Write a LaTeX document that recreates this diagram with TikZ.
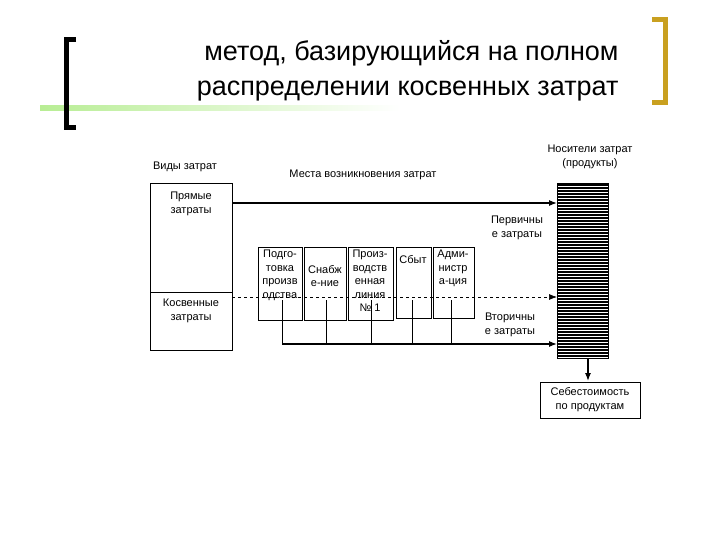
\documentclass[tikz,border=0pt]{standalone}
\usepackage{fontspec}
\setmainfont{Liberation Sans}
\usetikzlibrary{arrows.meta}
\begin{document}
\begin{tikzpicture}[x=1pt,y=-1pt,
  lbl/.style={font=\fontsize{11}{14}\selectfont,align=center,inner sep=0},
  blbl/.style={font=\fontsize{11}{13.5}\selectfont,align=center,inner sep=0},
  box/.style={draw,line width=0.7pt},
  arr/.style={line width=1.2pt,-{Latex[length=8pt,width=6pt]}}]
\useasboundingbox (0,0) rectangle (720,540);
\fill[white] (0,0) rectangle (720,540);
% title decor
\shade[left color=olive!40!green!35, right color=white] (40,106) rectangle (400,111);
\draw[line width=5pt] (76,40) -- (66,40) -- (66,128) -- (76,128);
\draw[line width=5pt,color={rgb,255:red,201;green,160;blue,32}] (652,20) -- (665,20) -- (665,103) -- (652,103);
\node[font=\fontsize{27}{35}\selectfont,align=right,anchor=east] (title) at (622,71) {метод, базирующийся на полном\\распределении косвенных затрат};
% left box
\draw[box] (150,183) rectangle (232,350);
\draw[box] (150,292) -- (232,292);
\node[lbl] (vid) at (185,167) {Виды затрат};
\node[lbl] (prj) at (191,204) {Прямые\\затраты};
\node[lbl] (kos) at (191,311) {Косвенные\\затраты};
\node[lbl] (mesta) at (363,175) {Места возникновения затрат};
\node[lbl] (nos) at (590,157) {Носители затрат\\(продукты)};
% hatched column
\foreach \yy in {185,188,...,356} \draw[line width=1.2pt] (557,\yy) -- (608,\yy);
\draw[box] (557,183) rectangle (608,358);
% department boxes
\node[box,minimum width=44pt,minimum height=73pt,anchor=north west,inner sep=0] (b1) at (258,247) {};
\node[blbl,anchor=north] at (280,250) {Подго-\\товка\\произв\\одства};
\node[box,minimum width=42pt,minimum height=73pt,anchor=north west,inner sep=0] (b2) at (304,247) {};
\node[blbl] at (325,276) {Снабж\\е-ние};
\node[box,minimum width=45pt,minimum height=73pt,anchor=north west,inner sep=0] (b3) at (348,247) {};
\node[blbl,anchor=north] at (370,250) {Произ-\\водств\\енная\\линия\\№ 1};
\node[box,minimum width=35pt,minimum height=71pt,anchor=north west,inner sep=0] (b4) at (396,247) {};
\node[blbl] at (413,260) {Сбыт};
\node[box,minimum width=41pt,minimum height=71pt,anchor=north west,inner sep=0] (b5) at (433,247) {};
\node[blbl,anchor=north] at (453,250) {Адми-\\нистр\\а-ция};
% arrows
\draw[arr] (232,203) -- (557,203);
\draw[dashed,line width=0.7pt,-{Latex[length=8pt,width=6pt]}] (232,297) -- (557,297);
\node[lbl] (perv) at (517,228) {Первичны\\е затраты};
\node[lbl] (vtor) at (510,325) {Вторичны\\е затраты};
\foreach \xx in {282,326,371,412,451} \draw[line width=0.7pt] (\xx,300) -- (\xx,344);
\draw[arr] (282,344) -- (557,344);
\node[box,lbl,minimum width=100pt,minimum height=36pt,inner sep=0] (seb) at (590,400) {Себестоимость\\по продуктам};
\draw[arr] (588,358) -- (588,381);
\end{tikzpicture}
\end{document}
